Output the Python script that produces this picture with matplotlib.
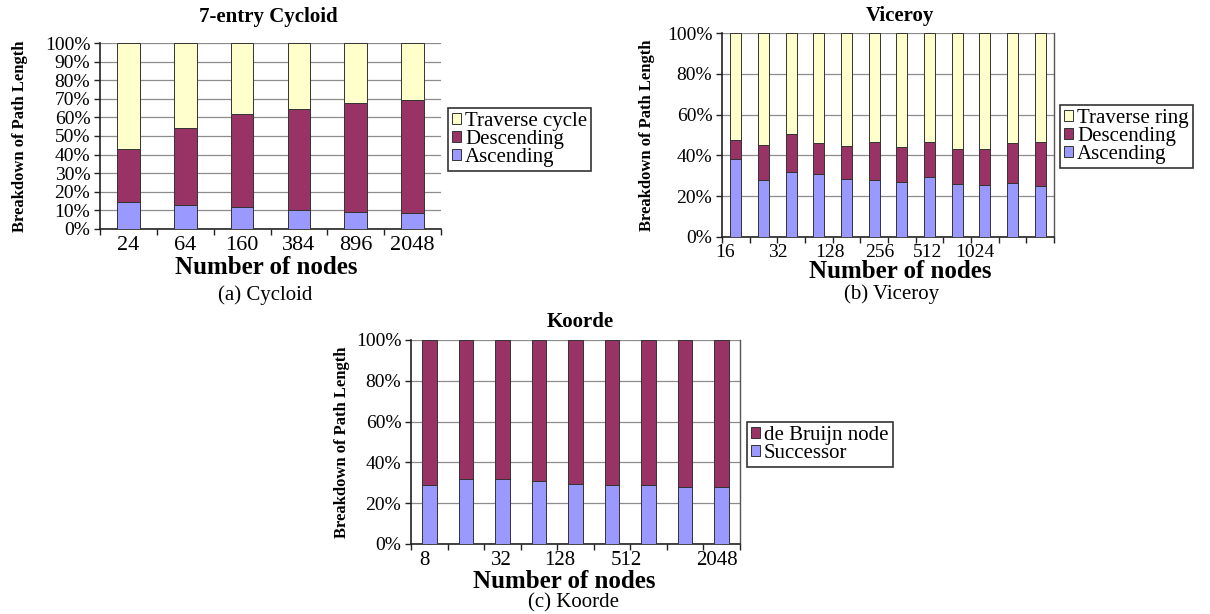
# -*- coding: utf-8 -*-

import numpy as np
import matplotlib
matplotlib.use('Agg')
import matplotlib.pyplot as plt
from matplotlib.patches import Patch

plt.rcParams['font.family'] = ['Liberation Serif', 'DejaVu Serif']

W, H = 1210, 614

YELLOW = '#ffffcc'
MAROON = '#993366'
LAVENDER = '#9999ff'
EDGE = '#333333'
GRID = '#8c8c8c'

# 7-entry Cycloid (percent of path length)
cyc_nodes = ['24', '64', '160', '384', '896', '2048']
cyc_ascending = [14.6, 12.9, 11.8, 10.2, 9.3, 8.4]
cyc_descending = [28.3, 41.6, 49.8, 54.4, 58.7, 60.9]
cyc_traverse = [57.1, 45.5, 38.4, 35.4, 32.0, 30.7]

# Viceroy
vic_ticks = ['16', '32', '128', '256', '512', '1024']
vic_ascending = [38.2, 28.0, 32.0, 30.8, 28.2, 27.7, 27.0, 29.2, 25.9, 25.6, 26.6, 25.1]
vic_descending = [9.2, 16.9, 18.7, 15.3, 16.2, 19.0, 17.3, 17.4, 17.1, 17.5, 19.5, 21.6]
vic_traverse = [52.6, 55.1, 49.3, 53.9, 55.6, 53.3, 55.7, 53.4, 57.0, 56.9, 53.9, 53.3]

# Koorde
koo_ticks = ['8', '32', '128', '512', '2048']
koo_successor = [28.7, 32.0, 31.8, 31.0, 29.5, 29.0, 28.7, 28.0, 27.7]
koo_debruijn = [71.3, 68.0, 68.2, 69.0, 70.5, 71.0, 71.3, 72.0, 72.3]

# where the sparse category labels sit (in category units)
vic_tick_pos = [-0.39, 1.52, 3.40, 5.21, 6.94, 8.64]
koo_tick_pos = [-0.12, 1.98, 3.58, 5.38, 7.87]


def fx(px):
    return px / W


def fy(py):
    return 1 - py / H


def make_axes(fig, left, top, right, bottom):
    return fig.add_axes([fx(left), fy(bottom), (right - left) / W, (bottom - top) / H])


def stacked(ax, series, colors):
    n = len(series[0])
    x = np.arange(n)
    bottom = np.zeros(n)
    for vals, c in zip(series, colors):
        vals = np.asarray(vals, dtype=float)
        ax.bar(x, vals, 0.4, bottom=bottom, color=c, edgecolor=EDGE,
               linewidth=0.7, zorder=3)
        bottom += vals
    return n


def style_axes(ax, n, ystep, tick_pos, tick_labels, xfs, right_spine):
    ax.set_xlim(-0.5, n - 0.5)
    ax.set_ylim(0, 100)
    yt = np.arange(0, 101, ystep)
    ax.set_yticks(yt)
    ax.set_yticklabels(['%d%%' % v for v in yt], fontsize=14)
    ax.tick_params(axis='y', length=4, width=1, direction='out', pad=3,
                   color='#222222')
    # boundary ticks unlabeled, labels carried by minor ticks
    ax.xaxis.remove_overlapping_locs = False
    ax.set_xticks(np.arange(n + 1) - 0.5)
    ax.set_xticklabels([])
    ax.tick_params(axis='x', which='major', length=4, width=1,
                   direction='out', color='#222222')
    ax.set_xticks(tick_pos, minor=True)
    ax.set_xticklabels(tick_labels, minor=True, fontsize=xfs)
    ax.tick_params(axis='x', which='minor', length=0, pad=5)
    ax.set_axisbelow(True)
    ax.yaxis.grid(True, color=GRID, linewidth=0.9)
    ax.spines['top'].set_visible(False)
    for s in ['left', 'bottom']:
        ax.spines[s].set_color('#222222')
        ax.spines[s].set_linewidth(1.2)
    if right_spine:
        ax.spines['right'].set_color('#555555')
        ax.spines['right'].set_linewidth(1.0)
    else:
        ax.spines['right'].set_visible(False)


def labels(fig, ax, title, title_xy, ylab_xy, xlab_xy, caption, cap_xy):
    fig.text(fx(title_xy[0]), fy(title_xy[1]), title, fontsize=15,
             fontweight='bold', ha='center', va='center')
    ax.set_ylabel('Breakdown of Path Length', fontsize=12, fontweight='bold',
                  ha='center', va='center')
    ax.yaxis.set_label_coords(fx(ylab_xy[0]), fy(ylab_xy[1]),
                              transform=fig.transFigure)
    ax.set_xlabel('Number of nodes', fontsize=18, fontweight='bold',
                  ha='center', va='center')
    ax.xaxis.set_label_coords(fx(xlab_xy[0]), fy(xlab_xy[1]),
                              transform=fig.transFigure)
    fig.text(fx(cap_xy[0]), fy(cap_xy[1]), caption, fontsize=15,
             ha='center', va='center')


def legend(fig, ax, names, colors, xy):
    handles = [Patch(facecolor=c, edgecolor=EDGE, linewidth=0.7) for c in colors]
    leg = ax.legend(handles, names, loc='upper left',
                    bbox_to_anchor=(fx(xy[0]), fy(xy[1])),
                    bbox_transform=fig.transFigure, borderaxespad=0,
                    fontsize=15, frameon=True, fancybox=False, shadow=False,
                    handlelength=0.42, handleheight=0.42, handletextpad=0.2,
                    labelspacing=-0.05, borderpad=0.2)
    leg.get_frame().set_edgecolor('black')
    leg.get_frame().set_linewidth(1.2)


fig = plt.figure(figsize=(W / 100, H / 100), dpi=100)

# (a) Cycloid
ax = make_axes(fig, 100, 43, 441, 229)
n = stacked(ax, [cyc_ascending, cyc_descending, cyc_traverse],
            [LAVENDER, MAROON, YELLOW])
style_axes(ax, n, 10, np.arange(n), cyc_nodes, 16, False)
labels(fig, ax, '7-entry Cycloid', (268, 17), (20, 136), (266, 267),
       '(a) Cycloid', (265, 295))
legend(fig, ax, ['Traverse cycle', 'Descending', 'Ascending'],
       [YELLOW, MAROON, LAVENDER], (448, 108))

# (b) Viceroy
ax = make_axes(fig, 722, 33, 1054, 237)
n = stacked(ax, [vic_ascending, vic_descending, vic_traverse],
            [LAVENDER, MAROON, YELLOW])
style_axes(ax, n, 20, vic_tick_pos, vic_ticks, 14, True)
labels(fig, ax, 'Viceroy', (900, 16), (647, 135), (900, 271),
       '(b) Viceroy', (892, 294))
legend(fig, ax, ['Traverse ring', 'Descending', 'Ascending'],
       [YELLOW, MAROON, LAVENDER], (1060, 105))

# (c) Koorde
ax = make_axes(fig, 411, 340, 740, 544)
n = stacked(ax, [koo_successor, koo_debruijn], [LAVENDER, MAROON])
style_axes(ax, n, 20, koo_tick_pos, koo_ticks, 15, True)
labels(fig, ax, 'Koorde', (580, 322), (342, 442), (564, 581),
       '(c) Koorde', (573, 603))
legend(fig, ax, ['de Bruijn node', 'Successor'], [MAROON, LAVENDER], (747, 422))

plt.savefig('out.png', dpi=100)
plt.close('all')
